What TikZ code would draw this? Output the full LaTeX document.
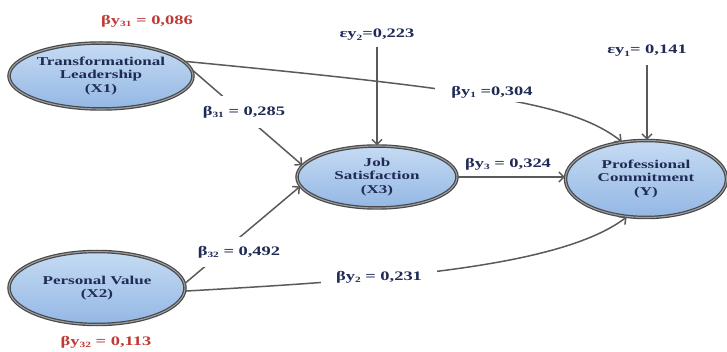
\documentclass[tikz,border=0pt]{standalone}
\usepackage{fontspec}
\setmainfont{Liberation Serif}[FakeStretch=1.42]
\usetikzlibrary{shapes.geometric,arrows.meta}
\definecolor{navy}{HTML}{1F2A55}
\definecolor{redlab}{HTML}{BE3A36}
\definecolor{edgegray}{HTML}{5A5A5A}
\definecolor{ringgray}{HTML}{484848}
\definecolor{ringlight}{HTML}{9A9EA3}
\definecolor{bluetop}{HTML}{C6DBF3}
\definecolor{bluebot}{HTML}{93B7E4}
\newcommand{\mysub}[1]{\raisebox{-0.35ex}{\fontsize{8}{9}\selectfont #1}}
\tikzset{
  latent/.style={ellipse, draw=ringgray, line width=1.2pt, double=ringlight, double distance=1.1pt,
    top color=bluetop, bottom color=bluebot, inner sep=0pt, align=center, text=navy,
    font=\bfseries\fontsize{12}{13.5}\selectfont},
  lab/.style={text=navy, font=\bfseries\fontsize{13}{14}\selectfont, inner sep=2pt},
  redl/.style={text=redlab, font=\bfseries\fontsize{13}{14}\selectfont, inner sep=2pt},
  gaplab/.style={lab, fill=white},
  conn/.style={draw=edgegray, line width=1.5pt, -{Straight Barb[length=5pt,width=10pt,line width=1.5pt]}}
}
\begin{document}
\begin{tikzpicture}[x=1pt,y=-1pt]
\useasboundingbox (0,0) rectangle (727,352);
% nodes
\node[latent, minimum width=184pt, minimum height=66pt] (x1) at (101,76) {Transformational\\Leadership\\(X1)};
\node[latent, minimum width=176pt, minimum height=73pt] (x2) at (97,288) {Personal Value\\(X2)};
\node[latent, minimum width=160pt, minimum height=62pt] (x3) at (377,177) {Job\\Satisfaction\\(X3)};
\node[latent, minimum width=161pt, minimum height=77pt] (y) at (646,179) {Professional\\Commitment\\(Y)};
% error labels
\node[lab] (e2) at (377,35) {εy\mysub{2}=0,223};
\node[lab] (e1) at (647,51) {εy\mysub{1}= 0,141};
% connectors
\draw[conn] (x1.4) -- (x3.171);
\draw[conn] (x2.3) -- (x3.187);
\draw[conn] (x3.east) -- (y.west |- x3.east);
\draw[conn, shorten <=4pt] (e2.south) -- (x3.north);
\draw[conn, shorten <=6pt] (e1.south) -- (e1.south |- y.north);
\draw[conn] (x1.10) .. controls (493,91) and (575,105) .. (y.123);
\draw[conn] (x2.-2) .. controls (380,280) and (560,268) .. (y.243);
% path labels
\node[gaplab, inner xsep=4pt, inner ysep=10pt] (l31) at (244,112) {β\mysub{31} = 0,285};
\node[gaplab, inner xsep=4pt, inner ysep=9pt] (l32) at (239,252) {β\mysub{32} = 0,492};
\node[gaplab, inner xsep=16pt, inner ysep=4pt] (ly1) at (492,92) {βy\mysub{1} =0,304};
\node[gaplab, inner xsep=15pt, inner ysep=4pt] (ly2) at (379,277) {βy\mysub{2} = 0,231};
\node[lab] (ly3) at (508,164) {βy\mysub{3} = 0,324};
% r-square labels
\node[redl] (r1) at (147,21) {βy\mysub{31} = 0,086};
\node[redl] (r2) at (106,342) {βy\mysub{32} = 0,113};
\end{tikzpicture}
\end{document}
